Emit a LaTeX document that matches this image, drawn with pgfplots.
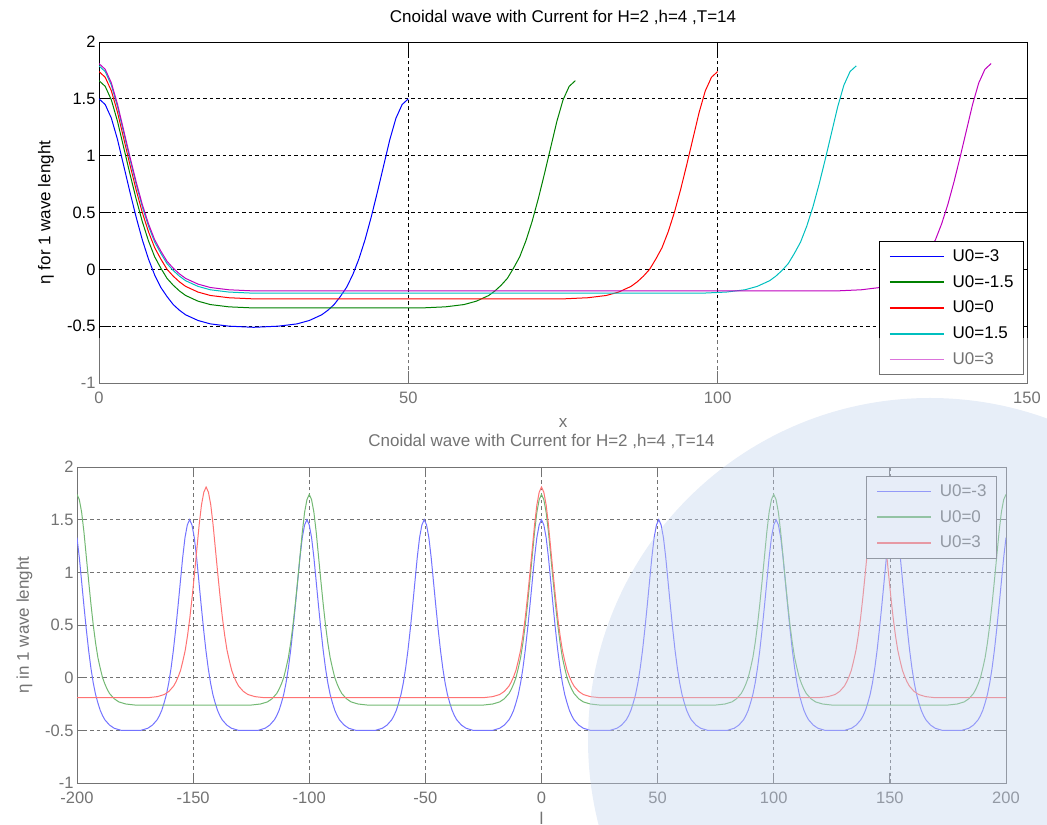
\documentclass[border=0pt]{standalone}
\usepackage{fontspec}
\setmainfont{Liberation Sans}
\usepackage{pgfplots}
\pgfplotsset{compat=1.18}
\definecolor{mgreen}{RGB}{0,128,0}
\definecolor{mcyan}{RGB}{0,191,191}
\definecolor{mmag}{RGB}{191,0,191}
\definecolor{wmark}{RGB}{196,212,238}

\pgfplotsset{
  matlab/.style={
    scale only axis,
    anchor=south west,
    axis line style={black, line width=0.8bp},
    tick align=inside,
    tick style={black, line width=0.8bp},
    grid=major,
    major grid style={black, line width=0.7bp, dash pattern=on 3.5bp off 3bp},
    ymin=-1, ymax=2,
    ytick={-1,-0.5,0,0.5,1,1.5,2},
    /pgf/number format/assume math mode=true,
    ticklabel style={font=\fontsize{16.5bp}{19bp}\selectfont},
    xticklabel style={yshift=-5bp},
    label style={font=\fontsize{17bp}{20bp}\selectfont},
    title style={font=\fontsize{17bp}{20bp}\selectfont, at={(0.5,1)}, anchor=base},
    xlabel style={at={(0.5,0)}, anchor=base},
    legend cell align=left,
    legend style={line width=0.8bp,
      font=\fontsize{17bp}{20bp}\selectfont,
      inner xsep=10bp, inner ysep=8bp, row sep=11.8bp,
      nodes={inner sep=0bp, text height=12bp, text depth=2bp},
      /tikz/every odd column/.append style={column sep=8bp}},
    every axis plot/.append style={line width=1bp},
  },
  key/.style={legend image code/.code={\draw[draw=#1, line width=1.6bp] (0bp,0bp) -- (54bp,0bp);}},
}

\begin{document}
\begin{tikzpicture}
\useasboundingbox (0,0) rectangle (1047bp,825bp);
\clip (0,0) rectangle (1047bp,825bp);

% upper plot: one wave length for each current
\begin{axis}[matlab,
  at={(99bp,442bp)}, width=928bp, height=341bp,
  xmin=0, xmax=150, xtick={0,50,100,150},
  major tick length=12bp,
  title={Cnoidal wave with Current for H=2 ,h=4 ,T=14},
  title style={yshift=14bp},
  xlabel={x}, xlabel style={yshift=-45bp},
  ylabel={η for 1 wave lenght},
  ylabel style={at={(axis description cs:-0.0571,0.5)}, anchor=center},
  legend style={at={(1,0)}, anchor=south east, xshift=-3bp, yshift=8bp},
]
\addplot[draw=blue, forget plot] coordinates {(0,1.50)(1,1.45)(2,1.33)(3,1.14)(4,0.91)(5,0.68)(6,0.46)(7,0.26)(8,0.09)(9,-0.05)(10,-0.16)(11,-0.24)(12,-0.31)(13,-0.36)(14,-0.40)(16,-0.45)(18,-0.48)(21,-0.50)(25,-0.51)(29,-0.50)(32,-0.48)(34,-0.45)(36,-0.40)(37,-0.36)(38,-0.31)(39,-0.24)(40,-0.16)(41,-0.05)(42,0.09)(43,0.26)(44,0.46)(45,0.68)(46,0.91)(47,1.14)(48,1.33)(49,1.45)(50,1.50)};
\addplot[draw=mgreen, forget plot] coordinates {(0,1.66)(1,1.61)(2,1.49)(3,1.30)(4,1.07)(5,0.84)(6,0.62)(7,0.42)(8,0.25)(9,0.11)(10,0.01)(11,-0.08)(12,-0.14)(13,-0.19)(14,-0.23)(16,-0.28)(18,-0.31)(21,-0.33)(25,-0.34)(52,-0.34)(56,-0.33)(59,-0.31)(61,-0.28)(63,-0.23)(64,-0.19)(65,-0.14)(66,-0.08)(67,0.01)(68,0.11)(69,0.25)(70,0.42)(71,0.62)(72,0.84)(73,1.07)(74,1.30)(75,1.49)(76,1.61)(77,1.66)};
\addplot[draw=red, forget plot] coordinates {(0,1.74)(1,1.69)(2,1.57)(3,1.38)(4,1.15)(5,0.92)(6,0.70)(7,0.50)(8,0.33)(9,0.19)(10,0.09)(11,0.00)(12,-0.06)(13,-0.11)(14,-0.15)(16,-0.20)(18,-0.23)(21,-0.25)(25,-0.26)(75,-0.26)(79,-0.25)(82,-0.23)(84,-0.20)(86,-0.15)(87,-0.11)(88,-0.06)(89,0.00)(90,0.09)(91,0.19)(92,0.33)(93,0.50)(94,0.70)(95,0.92)(96,1.15)(97,1.38)(98,1.57)(99,1.69)(100,1.74)};
\addplot[draw=mcyan, forget plot] coordinates {(0,1.79)(1,1.74)(2,1.62)(3,1.43)(4,1.20)(5,0.97)(6,0.75)(7,0.55)(8,0.38)(9,0.24)(10,0.14)(11,0.05)(12,-0.01)(13,-0.06)(14,-0.10)(16,-0.15)(18,-0.18)(21,-0.20)(25,-0.21)(97.4,-0.21)(101.4,-0.20)(104.4,-0.18)(106.4,-0.15)(108.4,-0.10)(109.4,-0.06)(110.4,-0.01)(111.4,0.05)(112.4,0.14)(113.4,0.24)(114.4,0.38)(115.4,0.55)(116.4,0.75)(117.4,0.97)(118.4,1.20)(119.4,1.43)(120.4,1.62)(121.4,1.74)(122.4,1.79)};
\addplot[draw=mmag, forget plot] coordinates {(0,1.81)(1,1.76)(2,1.64)(3,1.45)(4,1.22)(5,0.99)(6,0.77)(7,0.57)(8,0.40)(9,0.26)(10,0.16)(11,0.07)(12,0.01)(13,-0.04)(14,-0.08)(16,-0.13)(18,-0.16)(21,-0.18)(25,-0.19)(119.2,-0.19)(123.2,-0.18)(126.2,-0.16)(128.2,-0.13)(130.2,-0.08)(131.2,-0.04)(132.2,0.01)(133.2,0.07)(134.2,0.16)(135.2,0.26)(136.2,0.40)(137.2,0.57)(138.2,0.77)(139.2,0.99)(140.2,1.22)(141.2,1.45)(142.2,1.64)(143.2,1.76)(144.2,1.81)};
\addlegendimage{key=blue}
\addlegendimage{key=mgreen}
\addlegendimage{key=red}
\addlegendimage{key=mcyan}
\addlegendimage{key=mmag}
\legend{U0=-3,U0=-1.5,U0=0,U0=1.5,U0=3}
\end{axis}

% lower plot: several wave lengths
\begin{axis}[matlab,
  at={(77bp,42bp)}, width=929bp, height=316bp,
  xmin=-200, xmax=200, xtick={-200,-150,...,200},
  major tick length=10bp,
  title={Cnoidal wave with Current for H=2 ,h=4 ,T=14},
  title style={yshift=15bp},
  xlabel={l}, xlabel style={yshift=-41bp},
  ylabel={η in 1 wave lenght},
  ylabel style={at={(axis description cs:-0.0565,0.5)}, anchor=center},
  legend style={at={(1,1)}, anchor=north east, xshift=-9bp, yshift=-9bp},
]
\addplot[draw=blue, forget plot] coordinates {(-200,1.33)(-199,1.14)(-198,0.91)(-197,0.68)(-196,0.46)(-195,0.26)(-194,0.09)(-193,-0.05)(-192,-0.16)(-191,-0.24)(-190,-0.31)(-189,-0.36)(-188,-0.40)(-186,-0.45)(-184,-0.48)(-181,-0.50)(-176.75,-0.50)(-172.5,-0.50)(-169.5,-0.48)(-167.5,-0.45)(-165.5,-0.40)(-164.5,-0.36)(-163.5,-0.31)(-162.5,-0.24)(-161.5,-0.16)(-160.5,-0.05)(-159.5,0.09)(-158.5,0.26)(-157.5,0.46)(-156.5,0.68)(-155.5,0.91)(-154.5,1.14)(-153.5,1.33)(-152.5,1.45)
(-151.5,1.50)(-150.5,1.45)(-149.5,1.33)(-148.5,1.14)(-147.5,0.91)(-146.5,0.68)(-145.5,0.46)(-144.5,0.26)(-143.5,0.09)(-142.5,-0.05)(-141.5,-0.16)(-140.5,-0.24)(-139.5,-0.31)(-138.5,-0.36)(-137.5,-0.40)(-135.5,-0.45)(-133.5,-0.48)(-130.5,-0.50)(-126.25,-0.50)(-122,-0.50)(-119,-0.48)(-117,-0.45)(-115,-0.40)(-114,-0.36)(-113,-0.31)(-112,-0.24)(-111,-0.16)(-110,-0.05)(-109,0.09)(-108,0.26)(-107,0.46)(-106,0.68)(-105,0.91)(-104,1.14)(-103,1.33)(-102,1.45)
(-101,1.50)(-100,1.45)(-99,1.33)(-98,1.14)(-97,0.91)(-96,0.68)(-95,0.46)(-94,0.26)(-93,0.09)(-92,-0.05)(-91,-0.16)(-90,-0.24)(-89,-0.31)(-88,-0.36)(-87,-0.40)(-85,-0.45)(-83,-0.48)(-80,-0.50)(-75.75,-0.50)(-71.5,-0.50)(-68.5,-0.48)(-66.5,-0.45)(-64.5,-0.40)(-63.5,-0.36)(-62.5,-0.31)(-61.5,-0.24)(-60.5,-0.16)(-59.5,-0.05)(-58.5,0.09)(-57.5,0.26)(-56.5,0.46)(-55.5,0.68)(-54.5,0.91)(-53.5,1.14)(-52.5,1.33)(-51.5,1.45)
(-50.5,1.50)(-49.5,1.45)(-48.5,1.33)(-47.5,1.14)(-46.5,0.91)(-45.5,0.68)(-44.5,0.46)(-43.5,0.26)(-42.5,0.09)(-41.5,-0.05)(-40.5,-0.16)(-39.5,-0.24)(-38.5,-0.31)(-37.5,-0.36)(-36.5,-0.40)(-34.5,-0.45)(-32.5,-0.48)(-29.5,-0.50)(-25.25,-0.50)(-21,-0.50)(-18,-0.48)(-16,-0.45)(-14,-0.40)(-13,-0.36)(-12,-0.31)(-11,-0.24)(-10,-0.16)(-9,-0.05)(-8,0.09)(-7,0.26)(-6,0.46)(-5,0.68)(-4,0.91)(-3,1.14)(-2,1.33)(-1,1.45)
(0,1.50)(1,1.45)(2,1.33)(3,1.14)(4,0.91)(5,0.68)(6,0.46)(7,0.26)(8,0.09)(9,-0.05)(10,-0.16)(11,-0.24)(12,-0.31)(13,-0.36)(14,-0.40)(16,-0.45)(18,-0.48)(21,-0.50)(25.25,-0.50)(29.5,-0.50)(32.5,-0.48)(34.5,-0.45)(36.5,-0.40)(37.5,-0.36)(38.5,-0.31)(39.5,-0.24)(40.5,-0.16)(41.5,-0.05)(42.5,0.09)(43.5,0.26)(44.5,0.46)(45.5,0.68)(46.5,0.91)(47.5,1.14)(48.5,1.33)(49.5,1.45)
(50.5,1.50)(51.5,1.45)(52.5,1.33)(53.5,1.14)(54.5,0.91)(55.5,0.68)(56.5,0.46)(57.5,0.26)(58.5,0.09)(59.5,-0.05)(60.5,-0.16)(61.5,-0.24)(62.5,-0.31)(63.5,-0.36)(64.5,-0.40)(66.5,-0.45)(68.5,-0.48)(71.5,-0.50)(75.75,-0.50)(80,-0.50)(83,-0.48)(85,-0.45)(87,-0.40)(88,-0.36)(89,-0.31)(90,-0.24)(91,-0.16)(92,-0.05)(93,0.09)(94,0.26)(95,0.46)(96,0.68)(97,0.91)(98,1.14)(99,1.33)(100,1.45)
(101,1.50)(102,1.45)(103,1.33)(104,1.14)(105,0.91)(106,0.68)(107,0.46)(108,0.26)(109,0.09)(110,-0.05)(111,-0.16)(112,-0.24)(113,-0.31)(114,-0.36)(115,-0.40)(117,-0.45)(119,-0.48)(122,-0.50)(126.25,-0.50)(130.5,-0.50)(133.5,-0.48)(135.5,-0.45)(137.5,-0.40)(138.5,-0.36)(139.5,-0.31)(140.5,-0.24)(141.5,-0.16)(142.5,-0.05)(143.5,0.09)(144.5,0.26)(145.5,0.46)(146.5,0.68)(147.5,0.91)(148.5,1.14)(149.5,1.33)(150.5,1.45)
(151.5,1.50)(152.5,1.45)(153.5,1.33)(154.5,1.14)(155.5,0.91)(156.5,0.68)(157.5,0.46)(158.5,0.26)(159.5,0.09)(160.5,-0.05)(161.5,-0.16)(162.5,-0.24)(163.5,-0.31)(164.5,-0.36)(165.5,-0.40)(167.5,-0.45)(169.5,-0.48)(172.5,-0.50)(176.75,-0.50)(181,-0.50)(184,-0.48)(186,-0.45)(188,-0.40)(189,-0.36)(190,-0.31)(191,-0.24)(192,-0.16)(193,-0.05)(194,0.09)(195,0.26)(196,0.46)(197,0.68)(198,0.91)(199,1.14)(200,1.33)};
\addplot[draw=mgreen, forget plot] coordinates {(-200,1.74)(-199,1.69)(-198,1.57)(-197,1.38)(-196,1.15)(-195,0.92)(-194,0.70)(-193,0.50)(-192,0.33)(-191,0.19)(-190,0.09)(-189,0.00)(-188,-0.06)(-187,-0.11)(-186,-0.15)(-184,-0.20)(-182,-0.23)(-179,-0.25)(-175,-0.26)(-125,-0.26)(-121,-0.25)(-118,-0.23)(-116,-0.20)(-114,-0.15)(-113,-0.11)(-112,-0.06)(-111,0.00)(-110,0.09)(-109,0.19)(-108,0.33)(-107,0.50)(-106,0.70)(-105,0.92)(-104,1.15)(-103,1.38)(-102,1.57)(-101,1.69)
(-100,1.74)(-99,1.69)(-98,1.57)(-97,1.38)(-96,1.15)(-95,0.92)(-94,0.70)(-93,0.50)(-92,0.33)(-91,0.19)(-90,0.09)(-89,0.00)(-88,-0.06)(-87,-0.11)(-86,-0.15)(-84,-0.20)(-82,-0.23)(-79,-0.25)(-75,-0.26)(-25,-0.26)(-21,-0.25)(-18,-0.23)(-16,-0.20)(-14,-0.15)(-13,-0.11)(-12,-0.06)(-11,0.00)(-10,0.09)(-9,0.19)(-8,0.33)(-7,0.50)(-6,0.70)(-5,0.92)(-4,1.15)(-3,1.38)(-2,1.57)(-1,1.69)
(0,1.74)(1,1.69)(2,1.57)(3,1.38)(4,1.15)(5,0.92)(6,0.70)(7,0.50)(8,0.33)(9,0.19)(10,0.09)(11,0.00)(12,-0.06)(13,-0.11)(14,-0.15)(16,-0.20)(18,-0.23)(21,-0.25)(25,-0.26)(75,-0.26)(79,-0.25)(82,-0.23)(84,-0.20)(86,-0.15)(87,-0.11)(88,-0.06)(89,0.00)(90,0.09)(91,0.19)(92,0.33)(93,0.50)(94,0.70)(95,0.92)(96,1.15)(97,1.38)(98,1.57)(99,1.69)
(100,1.74)(101,1.69)(102,1.57)(103,1.38)(104,1.15)(105,0.92)(106,0.70)(107,0.50)(108,0.33)(109,0.19)(110,0.09)(111,0.00)(112,-0.06)(113,-0.11)(114,-0.15)(116,-0.20)(118,-0.23)(121,-0.25)(125,-0.26)(175,-0.26)(179,-0.25)(182,-0.23)(184,-0.20)(186,-0.15)(187,-0.11)(188,-0.06)(189,0.00)(190,0.09)(191,0.19)(192,0.33)(193,0.50)(194,0.70)(195,0.92)(196,1.15)(197,1.38)(198,1.57)(199,1.69)(200,1.74)};
\addplot[draw=red, forget plot] coordinates {(-200,-0.19)(-169.4,-0.19)(-165.4,-0.18)(-162.4,-0.16)(-160.4,-0.13)(-158.4,-0.08)(-157.4,-0.04)(-156.4,0.01)(-155.4,0.07)(-154.4,0.16)(-153.4,0.26)(-152.4,0.40)(-151.4,0.57)(-150.4,0.77)(-149.4,0.99)(-148.4,1.22)(-147.4,1.45)(-146.4,1.64)(-145.4,1.76)(-144.4,1.81)(-143.4,1.76)(-142.4,1.64)(-141.4,1.45)(-140.4,1.22)(-139.4,0.99)(-138.4,0.77)(-137.4,0.57)(-136.4,0.40)(-135.4,0.26)(-134.4,0.16)(-133.4,0.07)(-132.4,0.01)(-131.4,-0.04)(-130.4,-0.08)(-128.4,-0.13)(-126.4,-0.16)(-123.4,-0.18)(-119.4,-0.19)
(-25,-0.19)(-21,-0.18)(-18,-0.16)(-16,-0.13)(-14,-0.08)(-13,-0.04)(-12,0.01)(-11,0.07)(-10,0.16)(-9,0.26)(-8,0.40)(-7,0.57)(-6,0.77)(-5,0.99)(-4,1.22)(-3,1.45)(-2,1.64)(-1,1.76)(0,1.81)(1,1.76)(2,1.64)(3,1.45)(4,1.22)(5,0.99)(6,0.77)(7,0.57)(8,0.40)(9,0.26)(10,0.16)(11,0.07)(12,0.01)(13,-0.04)(14,-0.08)(16,-0.13)(18,-0.16)(21,-0.18)(25,-0.19)
(119.4,-0.19)(123.4,-0.18)(126.4,-0.16)(128.4,-0.13)(130.4,-0.08)(131.4,-0.04)(132.4,0.01)(133.4,0.07)(134.4,0.16)(135.4,0.26)(136.4,0.40)(137.4,0.57)(138.4,0.77)(139.4,0.99)(140.4,1.22)(141.4,1.45)(142.4,1.64)(143.4,1.76)(144.4,1.81)(145.4,1.76)(146.4,1.64)(147.4,1.45)(148.4,1.22)(149.4,0.99)(150.4,0.77)(151.4,0.57)(152.4,0.40)(153.4,0.26)(154.4,0.16)(155.4,0.07)(156.4,0.01)(157.4,-0.04)(158.4,-0.08)(160.4,-0.13)(162.4,-0.16)(165.4,-0.18)(169.4,-0.19)(200,-0.19)};
\addlegendimage{key=blue}
\addlegendimage{key=mgreen}
\addlegendimage{key=red}
\legend{U0=-3,U0=0,U0=3}
\end{axis}

% faded lower part of the screenshot and its watermark
\fill[white, opacity=0.45] (0,0) rectangle (1047bp,487bp);
\fill[wmark, opacity=0.4] (930bp,85bp) circle (342bp);
\end{tikzpicture}
\end{document}
